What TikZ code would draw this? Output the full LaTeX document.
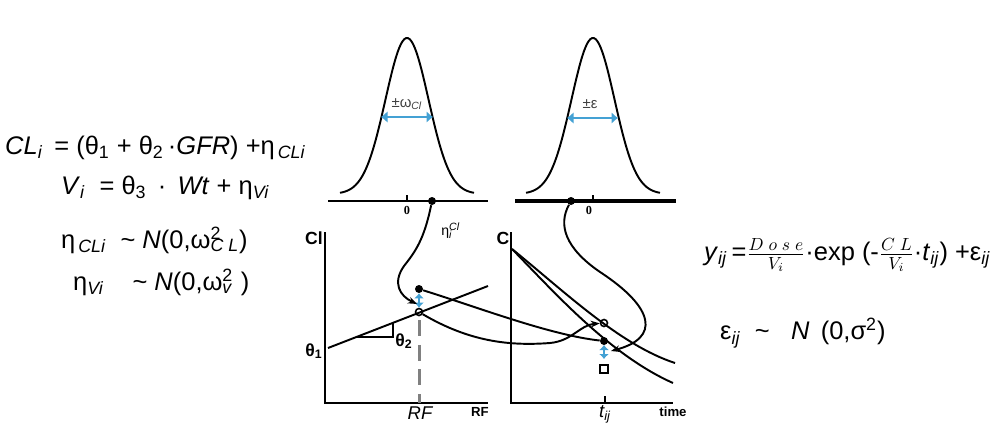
\documentclass[tikz,border=0pt]{standalone}
\usepackage{fontspec}
\setmainfont{Liberation Sans}
\newfontfamily\numfont{Liberation Serif}
\usepackage{tikz}
\usetikzlibrary{positioning,arrows.meta}
\usepackage{xcolor}
\definecolor{arrowblue}{RGB}{68,161,212}
\definecolor{dashgray}{RGB}{128,128,128}
\newcommand\eqsize{\fontsize{14.5}{17}\selectfont}
\newcommand\sbs[1]{\textsubscript{#1}}
\newcommand\supsub[2]{\makebox[0pt][l]{\textsuperscript{#1}}\textsubscript{#2}}

\begin{document}
\begin{tikzpicture}[x=0.02cm,y=-0.02cm,>={Stealth[length=1.8mm]},
  curve/.style={line width=1.1pt},
  fdot/.style={circle,fill,inner sep=0pt,minimum size=1.6mm},
  odot/.style={circle,draw,line width=0.9pt,inner sep=0pt,minimum size=1.4mm},
  spread/.style={{Latex[length=1.3mm,width=2.4mm]}-{Latex[length=1.3mm,width=2.4mm]},line width=1.6pt,arrowblue},
  nudge/.style={{Latex[length=1mm,width=2mm]}-{Latex[length=1mm,width=2mm]},line width=1.5pt,arrowblue},
  axlabel/.style={font=\bfseries\fontsize{10}{12}\selectfont},
  tiny/.style={font=\bfseries\fontsize{7.5}{9}\selectfont},
  zero/.style={font=\numfont\bfseries\fontsize{7}{8}\selectfont}]
\useasboundingbox (0,0) rectangle (999,426);
\node[anchor=west] (eqcl) at (-1,148) {\eqsize\textit{CL}\sbs{\textit{i}}\ \,= (θ\sbs{1} + θ\sbs{2}\,·\textit{GFR}) +η\sbs{\,\textit{CLi}}};
\node[anchor=west] (eqv) at (55,188) {\eqsize\textit{V}\sbs{\textit{i}}\ \ = θ\sbs{3}\, · \,\textit{Wt} + η\sbs{\textit{Vi}}};
\node[anchor=west] (eqecl) at (55,240) {\eqsize η\sbs{\,\textit{CLi}}\ \ \textasciitilde\ \textit{N}(0,ω\supsub{2}{$\mathit{C\;L}$})};
\node[anchor=west] (eqev) at (67,282) {\eqsize η\sbs{\textit{Vi}}\ \ \ \ \textasciitilde\ \textit{N}(0,ω\supsub{2}{$\mathit{v}$}\,\,)};
\node[anchor=west] (eqy) at (698,255) {\eqsize\textit{y}\sbs{\textit{ij}}\,=$\frac{D\;o\;s\;e}{V_i}$·exp\ (-$\frac{C\;L}{V_i}$·\textit{t}\sbs{\textit{ij}})\ +ε\sbs{\textit{ij}}};
\node[anchor=west] (eqeps) at (714,333) {\eqsize ε\sbs{\textit{ij}}\ \ \textasciitilde\ \ \ \textit{N}\ \,(0,σ\textsuperscript{2})};
\draw[curve] plot[domain=-67:67,samples=80] ({407+\x},{194-156*exp(-(\x)^2/924.5)});
\draw[curve] (328,201) -- (488,201);
\draw[curve] (407,195) -- (407,201);
\node[zero] at (407,210) {0};
\coordinate (lsl) at (381,117);
\coordinate (lsr) at (433,117);
\draw[spread] (lsl) -- (lsr);
\node[font=\fontsize{8.5}{10}\selectfont,text=black!75] at (407,104) {±ω\sbs{\textit{Cl}}};
\node[fdot] (ldot) at (432,201) {};
\draw[curve] plot[domain=-67:67,samples=80] ({593+\x},{194-156*exp(-(\x)^2/924.5)});
\draw[line width=2.4pt] (515,201) -- (676,201);
\draw[curve] (593,195) -- (593,201);
\node[zero] at (589,210) {0};
\coordinate (rsl) at (567,118);
\coordinate (rsr) at (618,118);
\draw[spread] (rsl) -- (rsr);
\node[font=\fontsize{8.5}{10}\selectfont,text=black!75] at (590,104) {±ε};
\node[fdot] (rdot) at (571,201) {};
\draw[curve] (325,232) -- (325,403) -- (488,403);
\node[axlabel] at (314,238) {Cl};
\node[axlabel] at (314,351) {θ\sbs{1}};
\node[tiny] at (480,412) {RF};
\node[font=\itshape\fontsize{10.5}{12}\selectfont] at (420,413) {RF};
\draw[curve] (328,348) -- (488,286);
\draw[line width=0.9pt] (356,337) -- (393,337) -- (393,323);
\node[axlabel] at (404,341) {θ\sbs{2}};
\node[odot] (lhollow) at (419,312) {};
\node[fdot] (lfill) at (419,289) {};
\draw[dashgray,line width=1.7pt,dash pattern=on 9pt off 5pt] (lhollow.south) ++(0,4) -- (419,403);
\draw[nudge] (lfill) -- (lhollow);
\node[font=\fontsize{8}{9}\selectfont] at (447,231) {η\supsub{\textit{Cl}}{\textit{i}}};
\draw[curve] (511,232) -- (511,403) -- (673,403);
\draw[curve] (605,396) -- (605,403);
\node[axlabel] at (503,238) {C};
\node[tiny] at (673,412) {time};
\node[font=\itshape\fontsize{10.5}{12}\selectfont] at (605,414) {t\sbs{ij}};
\draw[curve] (512,249) .. controls (565,292) and (620,345) .. (675,363);
\draw[curve] (512,249) .. controls (555,293) and (610,355) .. (673,383);
\node[odot] (rhollow) at (604,323) {};
\node[fdot] (rfill) at (604,341) {};
\node[draw,line width=0.9pt,inner sep=0pt,minimum size=1.5mm] (rsq) at (604,369) {};
\coordinate (rnt) at (604,345);
\coordinate (rnb) at (604,359);
\draw[nudge] (rnt) -- (rnb);
\coordinate (ltip) at (417,304);
\coordinate (rtip) at (611,351);
\draw[curve,->] (ldot) .. controls (424,240) and (415,252) .. (404,266) .. controls (392,283) and (400,296) .. (ltip);
\draw[curve,->] (rdot) .. controls (558,225) and (565,248) .. (600,272) .. controls (655,308) and (660,338) .. (rtip);
\draw[curve] (lfill) .. controls (480,308) and (550,335) .. (rfill);
\draw[curve,->] (lhollow) .. controls (470,342) and (510,346) .. (550,343) .. controls (572,341) and (580,325) .. (rhollow);
\end{tikzpicture}
\end{document}
